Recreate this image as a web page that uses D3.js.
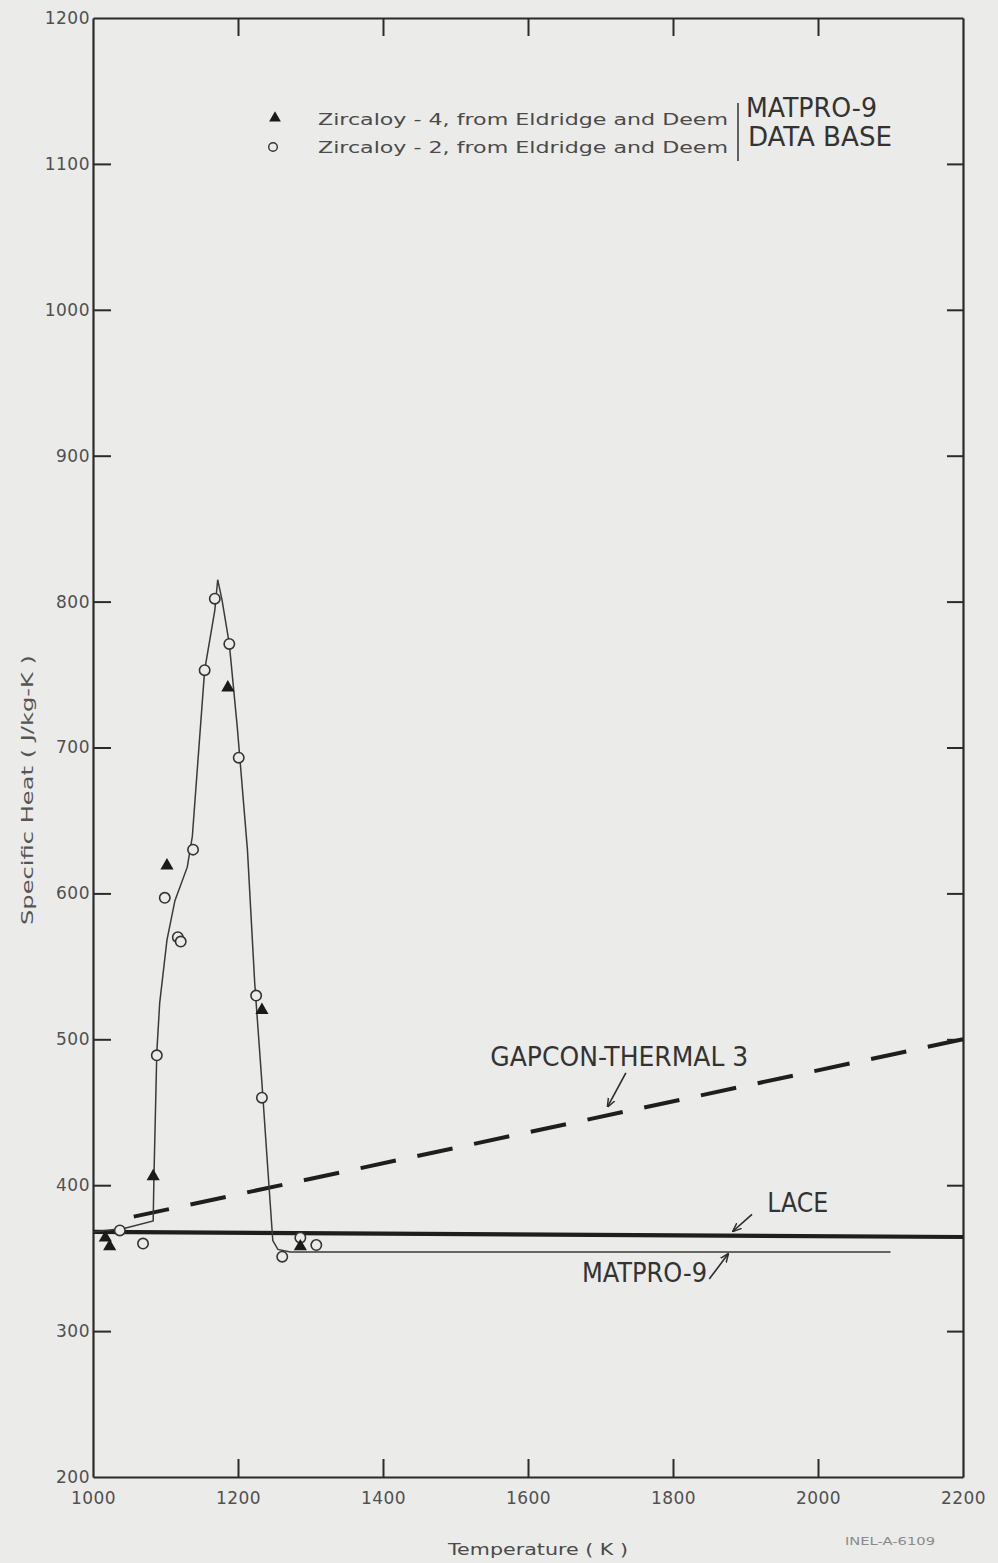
<!DOCTYPE html>
<html>
<head>
<meta charset="utf-8">
<script src="https://cdn.jsdelivr.net/npm/d3@7"></script>
<style>
  html, body { margin: 0; padding: 0; background: #ebebe9; }
  svg { display: block; }
</style>
</head>
<body>
<svg id="chart" width="998" height="1563"></svg>
<script>
// ---------------- DATA ----------------
const xTicks = [1000, 1200, 1400, 1600, 1800, 2000, 2200];
const yTicks = [200, 300, 400, 500, 600, 700, 800, 900, 1000, 1100, 1200];

// Zircaloy-4 (filled triangles)
const zr4Temp = [1017, 1023, 1083, 1102, 1186, 1233, 1286];
const zr4Cp   = [364, 358, 406, 619, 741, 520, 358];

// Zircaloy-2 (open circles)
const zr2Temp = [1037, 1069, 1088, 1099, 1117, 1121, 1138, 1154, 1168, 1188, 1201, 1225, 1233, 1261, 1286, 1308];
const zr2Cp   = [369, 360, 489, 597, 570, 567, 630, 753, 802, 771, 693, 530, 460, 351, 364, 359];

// MATPRO-9 fitted curve
const matproTemp = [1000, 1044, 1083, 1084, 1088, 1092, 1102, 1113, 1130, 1137, 1154, 1168, 1172, 1178, 1188, 1199, 1213, 1223, 1233, 1241, 1248, 1255, 1272, 2100];
const matproCp   = [368, 370.5, 375.5, 404, 491, 525, 568, 595, 618, 639, 753, 794, 815, 801, 771, 714, 630, 539, 470, 412, 362, 356, 354.2, 354.2];

// LACE
const laceTemp = [1000, 2200];
const laceCp   = [368, 364.5];

// GAPCON-THERMAL 3 (listed from the high-temperature end so the dash pattern starts there)
const gapconTemp = [2200, 1033];
const gapconCp   = [500, 376];

// ---------------- SETUP ----------------
const svg = d3.select("#chart");
const x = d3.scaleLinear().domain([1000, 2200]).range([93, 963]);
const y = d3.scaleLinear().domain([200, 1200]).range([1477, 18]);
const ink = "#2b2b2b";
const textInk = "#4a4a4a";
const bg = "#ebebe9";

svg.append("rect").attr("width", 998).attr("height", 1563).attr("fill", bg);

// arrow marker
svg.append("defs").append("marker")
  .attr("id", "arr").attr("viewBox", "0 0 10 10").attr("refX", 9).attr("refY", 5)
  .attr("markerWidth", 9).attr("markerHeight", 9).attr("orient", "auto-start-reverse")
  .attr("markerUnits", "userSpaceOnUse")
  .append("path").attr("d", "M0,1 L10,5 L0,9").attr("fill", "none").attr("stroke", ink).attr("stroke-width", 1.6);

// ---------------- AXES ----------------
function styleAxis(g) {
  g.selectAll(".domain").attr("stroke", ink).attr("stroke-width", 2.2);
  g.selectAll(".tick line").attr("stroke", ink).attr("stroke-width", 2);
  g.selectAll(".tick text").attr("fill", "#505050")
    .style("font-family", "'DejaVu Sans', sans-serif").style("font-size", "17px")
    .attr("letter-spacing", "0.5px");
}

svg.append("g").attr("transform", `translate(${x(1000)},0)`)
  .call(d3.axisLeft(y).tickValues(yTicks).tickSize(-18).tickSizeOuter(0).tickPadding(3).tickFormat(d3.format("d")))
  .call(styleAxis)
  .call(g => g.selectAll(".tick line").filter(d => d === 1200 || d === 200).remove());

svg.append("g").attr("transform", `translate(${x(2200)},0)`)
  .call(d3.axisRight(y).tickValues(yTicks.filter(d => d > 200 && d < 1200)).tickSize(-16).tickSizeOuter(0).tickFormat(""))
  .call(styleAxis);

svg.append("g").attr("transform", `translate(0,${y(200)})`)
  .call(d3.axisBottom(x).tickValues(xTicks).tickSize(-18).tickSizeOuter(0).tickPadding(15).tickFormat(d3.format("d")))
  .call(styleAxis)
  .call(g => g.selectAll(".tick line").filter(d => d === 1000 || d === 2200).remove());

svg.append("g").attr("transform", `translate(0,${y(1200)})`)
  .call(d3.axisTop(x).tickValues(xTicks.filter(d => d > 1000 && d < 2200)).tickSize(-18).tickSizeOuter(0).tickFormat(""))
  .call(styleAxis);

// ---------------- LINES ----------------
const line = d3.line().x(d => x(d[0])).y(d => y(d[1]));

// LACE (thick)
svg.append("path").datum(laceTemp.map((t, i) => [t, laceCp[i]]))
  .attr("d", line).attr("fill", "none").attr("stroke", "#1e1e1e").attr("stroke-width", 4.2);

// GAPCON dashed
svg.append("path").datum(gapconTemp.map((t, i) => [t, gapconCp[i]]))
  .attr("d", line).attr("fill", "none").attr("stroke", "#1e1e1e").attr("stroke-width", 4)
  .attr("stroke-dasharray", "36,22");

// MATPRO-9 thin curve
svg.append("path").datum(matproTemp.map((t, i) => [t, matproCp[i]]))
  .attr("d", line).attr("fill", "none").attr("stroke", "#3a3a3a").attr("stroke-width", 1.5);

// ---------------- POINTS ----------------
svg.append("g").selectAll("circle")
  .data(zr2Temp.map((t, i) => [t, zr2Cp[i]]))
  .join("circle")
  .attr("cx", d => x(d[0])).attr("cy", d => y(d[1])).attr("r", 5.2)
  .attr("fill", bg).attr("stroke", "#333").attr("stroke-width", 1.6);

const tri = d3.symbol().type(d3.symbolTriangle).size(75);
svg.append("g").selectAll("path")
  .data(zr4Temp.map((t, i) => [t, zr4Cp[i]]))
  .join("path")
  .attr("transform", d => `translate(${x(d[0])},${y(d[1])})`)
  .attr("d", tri).attr("fill", "#1a1a1a");

// ---------------- ANNOTATIONS ----------------
const annoFont = "'DejaVu Sans Condensed', 'Liberation Sans Narrow', 'DejaVu Sans', sans-serif";
const annotations = [
  { text: "GAPCON-THERMAL 3", t: 1548, cp: 482, len: 258, size: 27, from: [1735, 477], to: [1710, 454] },
  { text: "LACE", t: 1930, cp: 381.6, len: 61, size: 26, from: [1909, 380], to: [1883, 368.6] },
  { text: "MATPRO-9", t: 1674.5, cp: 333.7, len: 125, size: 27, from: [1850, 335.7], to: [1876, 352.8] }
];
annotations.forEach(a => {
  svg.append("text").attr("x", x(a.t)).attr("y", y(a.cp))
    .attr("textLength", a.len).attr("lengthAdjust", "spacingAndGlyphs")
    .style("font-family", annoFont).style("font-size", a.size + "px").attr("fill", "#333")
    .text(a.text);
  svg.append("line")
    .attr("x1", x(a.from[0])).attr("y1", y(a.from[1]))
    .attr("x2", x(a.to[0])).attr("y2", y(a.to[1]))
    .attr("stroke", ink).attr("stroke-width", 1.6).attr("marker-end", "url(#arr)");
});

// ---------------- LEGEND ----------------
const legendFont = "'DejaVu Sans', sans-serif";
const leg = svg.append("g");
leg.append("path").attr("transform", "translate(275,118)").attr("d", d3.symbol().type(d3.symbolTriangle).size(60)).attr("fill", "#1a1a1a");
leg.append("circle").attr("cx", 273).attr("cy", 147).attr("r", 4.3).attr("fill", "none").attr("stroke", "#333").attr("stroke-width", 1.4);
leg.append("text").attr("x", 318).attr("y", 125).attr("textLength", 410).attr("lengthAdjust", "spacingAndGlyphs")
  .style("font-family", legendFont).style("font-size", "16px").attr("fill", textInk)
  .text("Zircaloy - 4, from Eldridge and Deem");
leg.append("text").attr("x", 318).attr("y", 153).attr("textLength", 410).attr("lengthAdjust", "spacingAndGlyphs")
  .style("font-family", legendFont).style("font-size", "16px").attr("fill", textInk)
  .text("Zircaloy - 2, from Eldridge and Deem");
leg.append("line").attr("x1", 738).attr("x2", 738).attr("y1", 103).attr("y2", 161).attr("stroke", "#333").attr("stroke-width", 1.5);
leg.append("text").attr("x", 746).attr("y", 117).attr("textLength", 131).attr("lengthAdjust", "spacingAndGlyphs")
  .style("font-family", annoFont).style("font-size", "27px").attr("fill", "#333").text("MATPRO-9");
leg.append("text").attr("x", 748).attr("y", 146).attr("textLength", 144).attr("lengthAdjust", "spacingAndGlyphs")
  .style("font-family", annoFont).style("font-size", "27px").attr("fill", "#333").text("DATA BASE");

// ---------------- AXIS TITLES ----------------
svg.append("text").attr("transform", "translate(33,790) rotate(-90)").attr("text-anchor", "middle")
  .attr("textLength", 270).attr("lengthAdjust", "spacingAndGlyphs")
  .style("font-family", legendFont).style("font-size", "15px").attr("fill", "#555")
  .text("Specific Heat ( J/kg-K )");

svg.append("text").attr("x", 538).attr("y", 1555).attr("text-anchor", "middle")
  .attr("textLength", 180).attr("lengthAdjust", "spacingAndGlyphs")
  .style("font-family", legendFont).style("font-size", "15px").attr("fill", textInk)
  .text("Temperature ( K )");

svg.append("text").attr("x", 845).attr("y", 1545)
  .attr("textLength", 90).attr("lengthAdjust", "spacingAndGlyphs")
  .style("font-family", legendFont).style("font-size", "10px").attr("fill", "#8a8a8a")
  .text("INEL-A-6109");
</script>
</body>
</html>
